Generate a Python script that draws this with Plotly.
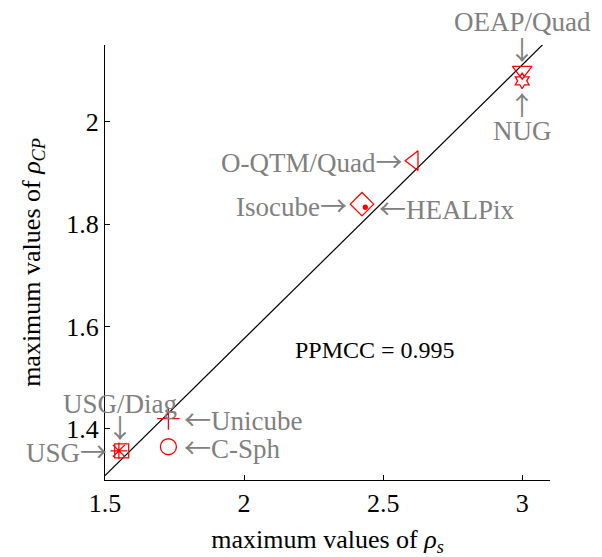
import numpy as np
import plotly.graph_objects as go

names = ["OEAP/Quad", "NUG", "O-QTM/Quad", "Isocube", "HEALPix", "Unicube", "C-Sph", "USG/Diag", "USG"]
rho_s = [3.0, 3.0, 2.61, 2.424, 2.436, 1.728, 1.728, 1.56, 1.55]
rho_cp = [2.10, 2.08, 1.924, 1.839, 1.833, 1.42, 1.365, 1.357, 1.357]
symbols = ["triangle-down-open", "hexagram-open", "triangle-left-open", "diamond-open", "circle",
           "cross-thin-open", "circle-open", "square-open", "asterisk-open"]
sizes = [17, 12, 17, 18, 4, 16, 16, 14, 14]
ppmcc_text = "PPMCC = 0.995"

x_ticks = [1.5, 2, 2.5, 3]
y_ticks = [1.4, 1.6, 1.8, 2]

RED = "#FF0000"
GRAY = "#808080"
FONT = "Liberation Serif"
ARROW_FONT = "Noto Sans CJK SC"

slope, intercept = np.polyfit(rho_s, rho_cp, 1)
fit_x = np.array([1.5, 3.1])
fit_y = slope * fit_x + intercept

fig = go.Figure()
fig.add_trace(go.Scatter(x=fit_x, y=fit_y, mode="lines", line=dict(color="black", width=1.2),
                         showlegend=False, hoverinfo="skip"))
for n, xv, yv, s, sz in zip(names, rho_s, rho_cp, symbols, sizes):
    fig.add_trace(go.Scatter(x=[xv], y=[yv], mode="markers", name=n, showlegend=False,
                             marker=dict(symbol=s, size=sz, color=RED,
                                         line=dict(color=RED, width=1.3))))

ann_font = dict(family=FONT, size=27, color=GRAY)
idx = {n: i for i, n in enumerate(names)}


def arrow(ch):
    return f"<span style='font-family:{ARROW_FONT}'>{ch}</span>"


def add_label(name, text, xanchor, yanchor, xshift=0, yshift=0, font=ann_font):
    i = idx[name]
    fig.add_annotation(x=rho_s[i], y=rho_cp[i], xref="x", yref="y", text=text, showarrow=False,
                       xanchor=xanchor, yanchor=yanchor, xshift=xshift, yshift=yshift, font=font)


arrow_font = dict(family=ARROW_FONT, size=26, color=GRAY)
add_label("OEAP/Quad", "OEAP/Quad", "center", "bottom", 0, 32)
add_label("OEAP/Quad", "↓", "center", "bottom", 0, 2, arrow_font)
add_label("NUG", "↑", "center", "top", 0, -2, arrow_font)
add_label("NUG", "NUG", "center", "top", 0, -33)
add_label("O-QTM/Quad", "O-QTM/Quad" + arrow("→"), "right", "middle", -10, 0)
add_label("Isocube", "Isocube" + arrow("→"), "right", "middle", -13, 0)
add_label("HEALPix", arrow("←") + "HEALPix", "left", "middle", 12, 0)
add_label("Unicube", arrow("←") + "Unicube", "left", "middle", 14, 0)
add_label("C-Sph", arrow("←") + "C-Sph", "left", "middle", 14, 0)
add_label("USG", "USG" + arrow("→"), "right", "middle", -10, 0)
add_label("USG/Diag", "↓", "center", "bottom", -2, 4, arrow_font)
add_label("USG/Diag", "USG/Diag", "center", "bottom", -2, 30)

fig.add_annotation(x=2.47, y=1.555, xref="x", yref="y", text=ppmcc_text, showarrow=False,
                   xanchor="center", yanchor="middle", font=dict(family=FONT, size=24, color="black"))

axis_common = dict(showgrid=False, zeroline=False, showline=True, linecolor="black", linewidth=1.3,
                   ticks="inside", ticklen=5, tickwidth=1.2, tickcolor="black",
                   tickfont=dict(family=FONT, size=26, color="black"), mirror=False,
                   automargin=False)

fig.update_xaxes(range=[1.5, 3.1], tickvals=x_ticks, ticktext=[str(v) for v in x_ticks],
                 title=dict(text="maximum values of <i>ρ</i><sub><i>s</i></sub>",
                            font=dict(family=FONT, size=26, color="black"), standoff=12),
                 **axis_common)
fig.update_yaxes(range=[1.3, 2.15], tickvals=y_ticks, ticktext=[str(v) for v in y_ticks],
                 title=dict(text="maximum values of <i>ρ</i><sub><i>CP</i></sub>",
                            font=dict(family=FONT, size=26, color="black"), standoff=18),
                 **axis_common)

fig.update_layout(width=602, height=557, margin=dict(l=105, r=52, t=45, b=77),
                  plot_bgcolor="white", paper_bgcolor="white", showlegend=False)

fig.write_html("out.html")
